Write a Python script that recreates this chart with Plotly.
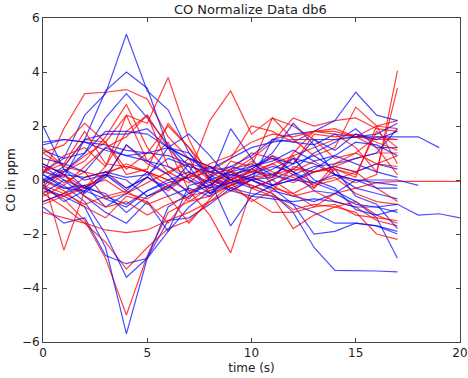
import plotly.graph_objects as go

# Normalised CO readings (ppm) per run, sampled once per second starting at t=0
blue_runs = [
    [0.3, 0.8, 2.4, 3.2, 5.4, 3.3, 2.6, 1.0, 0.2, -0.3, 0.0, -0.4, -0.6, -0.8, -0.5, -0.9, -1.0, -1.2],
    [0.0, 0.5, 1.5, 3.3, 4.0, 3.4, 1.2, 0.3, -0.2, 0.4, 0.6, 0.2, 0.0, 0.3, 0.5, 0.3, 0.6, 0.4],
    [-0.2, 0.3, 1.0, 2.3, 3.2, 2.3, 1.3, 0.5, -0.5, -0.2, 0.1, 0.4, 0.8, 0.6, 0.2, -0.3, -0.5, -0.7],
    [-0.3, -0.6, -1.0, -2.5, -5.7, -2.9, -1.5, -1.4, -0.9, -0.3, -0.5, -0.6, -0.9, -1.2, -1.6, -1.6, -1.7, -1.9],
    [0.2, -0.2, -0.8, -2.0, -3.6, -2.9, -1.9, -1.0, -0.4, -0.1, 0.2, 0.5, 0.3, -0.1, -0.4, -0.8, -1.4, -2.9],
    [-1.0, -1.6, -1.4, -2.8, -3.1, -2.9, -1.0, -0.5, 0.0, 0.3, 0.0, -0.3, -0.9, -2.0, -1.9, -1.6, -1.7, -2.0],
    [0.5, 0.0, -0.3, -0.5, -1.2, -0.6, -0.3, 0.2, 0.5, 0.0, -0.2, -0.5, -1.2, -2.5, -3.35, -3.35, -3.37, -3.4],
    [1.3, 1.5, 1.4, 1.3, 1.1, 1.0, 0.9, 0.6, 0.4, 0.8, 1.2, 1.4, 1.5, 1.5, 1.5, 1.6, 1.6, 1.6, 1.6, 1.2],
    [-0.8, -0.5, -0.2, -0.6, -0.9, -0.4, 0.0, 0.3, -0.1, -0.4, -0.6, -0.7, -0.8, -0.7, -0.8, -1.0, -1.0, -0.9, -1.3, -1.25, -1.4],
    [2.0, 0.4, -0.3, 0.2, -0.3, 0.1, -0.3, 0.6, 0.1, 0.5, 0.9, 1.5, 1.7, 1.8, 2.2, 3.25, 2.4, 2.2],
    [1.1, 0.8, 1.0, 1.8, 1.8, 1.7, 1.2, 0.8, 0.5, 0.0, -0.3, 0.0, 0.4, 1.0, 1.4, 1.9, 1.2, 1.2],
    [1.4, 1.5, 1.4, 1.1, 0.9, 1.0, 1.2, 1.0, 0.0, 1.9, 0.8, -0.2, 0.2, 0.5, 0.6, 0.8, 1.0, 1.9],
    [0.3, 0.1, 1.5, 1.7, 1.7, 1.9, 1.2, 1.7, 0.9, 0.0, 0.4, 1.0, 2.1, 1.3, 0.2, 0.0, -0.1, -0.2],
    [0.0, 0.2, -0.5, 0.2, 0.0, -0.6, -0.2, -0.7, 0.1, -0.4, 0.0, 1.5, 1.4, 1.3, 1.7, 1.6, 1.7, 2.1],
    [-0.5, 0.0, -0.6, -1.2, -1.6, -0.8, -1.9, -0.2, 0.0, -1.7, -0.6, -0.2, 0.0, 0.4, 0.9, 0.6, 0.3, 0.1],
    [0.2, -0.3, -0.2, -1.0, -0.5, 0.1, 1.2, 0.8, 0.3, 0.5, 0.3, 0.2, 0.6, 0.9, 0.4, -0.6, -0.9, -1.8],
    [-0.1, 0.4, 0.0, 0.2, -0.4, 0.3, -0.6, -0.3, -0.6, 0.2, 0.4, 0.9, 0.3, -0.4, -0.5, 0.0, -0.3, -0.3],
    [0.6, 0.2, 0.1, 0.3, 0.1, 0.2, 0.8, 0.5, 0.3, 0.2, 0.0, 0.1, 0.8, 0.0, -0.3, -1.1, -1.3, -1.1],
    [0.0, -0.3, -0.4, -0.7, -1.0, -0.4, -0.1, 0.1, -0.3, -0.1, 0.1, -0.2, 0.0, -0.1, 0.2, 0.0, 0.0, 0.0, -0.2],
    [-0.2, -0.8, -0.4, 0.1, 1.3, 0.7, 0.2, -0.5, -0.2, 0.3, 0.5, 0.7, 1.1, 0.7, 0.9, 1.4, 1.3, 0.9],
    [0.8, 0.6, 0.3, 1.2, 0.9, 0.7, 0.5, 0.0, -0.5, 0.1, 0.5, 0.8, 0.6, 1.5, 1.1, 1.7, 1.5, 1.8],
]

red_runs = [
    [0.2, 1.9, 3.2, 3.25, 3.35, 3.0, 1.6, 0.8, 0.5, 0.0, 0.3, 0.6, 0.9, 1.2, 1.5, 1.6, 1.5, 1.5],
    [0.5, 0.3, 0.9, 1.4, 2.4, 2.1, 3.8, 1.5, 0.0, -0.1, 0.2, 0.6, 0.2, -0.2, 0.0, 0.3, 0.6, 0.5],
    [-0.8, -0.5, 0.1, 0.3, -0.3, 0.1, -0.4, 0.2, 2.2, 3.3, 1.7, 2.3, 2.0, 1.5, 0.8, 1.0, 1.6, 1.5],
    [-0.3, -0.7, -1.5, -2.9, -5.0, -2.8, -1.2, -0.8, -0.3, 0.2, 0.1, -0.2, -0.6, -0.4, -0.8, -1.0, -1.5, -1.7],
    [-0.5, -1.0, -1.6, -2.3, -3.3, -2.5, -1.8, -1.5, -0.8, -0.2, 0.1, 0.2, -0.1, 0.3, 0.5, 0.8, 1.0, 1.0],
    [0.1, -2.6, -0.4, 0.3, 0.5, 0.3, -0.2, -0.8, -0.6, -0.2, 0.0, -0.3, -0.5, -0.1, 0.1, -0.5, -0.8, -0.9],
    [-0.9, -0.6, -0.3, 0.2, 0.6, 0.3, 0.0, -0.4, -1.3, -2.7, -0.3, -0.6, -1.8, -1.3, -1.0, -1.2, -2.0, -2.2],
    [-0.1, 0.3, 0.7, 1.6, 2.8, 1.2, 0.3, -0.1, 0.5, 0.3, 0.8, 1.4, 2.3, 2.0, 2.2, 2.3, 1.9, 1.8],
    [0.3, 0.9, 1.2, 0.5, 2.4, 0.7, 1.4, 0.0, -0.3, 0.7, 0.5, 2.3, 1.5, 0.9, 1.2, 2.7, 2.0, 2.2],
    [0.6, 0.2, -0.3, 0.5, 1.8, 2.4, 1.2, -0.4, -0.2, 0.4, 1.0, 0.8, 0.3, 0.7, 0.2, -0.1, 0.2, 4.05],
    [1.2, 0.5, 1.5, 1.4, 0.4, 1.0, 2.0, 1.2, 0.0, -0.2, 0.4, 0.0, 1.0, 1.8, 1.7, 1.2, 0.3, 3.4],
    [-0.4, -0.6, -0.2, 0.0, -0.5, -0.1, 0.3, 0.6, 0.0, -0.3, -0.7, -1.2, -1.2, -1.0, -0.5, -0.3, -0.1, -0.05, -0.05, -0.05, -0.05],
    [-1.2, -1.4, -1.6, -1.85, -1.95, -1.85, -1.5, -1.2, -0.8, -0.4, 0.0, 0.2, 0.4, 0.3, 0.5, 0.3, -0.3, -0.8],
    [1.0, 1.3, 2.1, 1.4, 0.2, 0.4, 2.1, 1.2, 0.3, 0.8, 2.0, 1.8, 1.4, 1.8, 1.9, 1.6, 2.0, 1.9],
    [-0.2, -0.5, -0.9, -0.6, -0.4, -0.9, -0.6, -1.6, -0.7, 0.1, -0.2, -0.5, -1.1, -0.9, -1.0, -0.8, -1.3, -1.6],
    [0.4, -0.1, 0.3, 0.1, 1.3, 0.6, 0.2, 0.8, -0.5, 0.0, 0.7, 0.3, 0.1, -0.3, 0.6, 1.0, 0.6, 0.9],
    [1.0, 0.5, 0.3, -0.7, -0.5, -0.7, -0.2, 0.1, 0.3, -0.1, -0.8, -0.4, 0.5, 0.3, 0.4, 0.2, 1.8, 1.2],
    [-0.6, -0.2, 0.5, 1.2, 1.6, 2.4, 0.5, 0.2, -0.1, 0.2, 0.4, 0.1, 0.9, -0.3, 0.4, 0.1, 2.0, 0.6],
    [0.0, -0.4, -1.0, -1.4, -0.6, -0.8, -1.6, -0.6, -0.4, 0.0, 0.3, 0.9, 0.6, 1.7, 1.6, 1.7, 1.4, 1.1],
    [0.3, 0.6, 1.8, 0.6, 0.5, 0.3, 0.0, 0.1, 0.6, 0.9, 1.4, 1.7, 1.6, 1.8, 1.8, 1.6, 1.2, 0.2],
    [-0.3, 0.2, -0.6, -1.0, -0.8, -1.3, -0.9, -0.6, 0.2, 0.4, -0.3, 0.0, -0.5, -1.0, -0.9, -1.3, -1.4, -1.5],
]

x_ticks = [0, 5, 10, 15, 20]
y_ticks = [-6, -4, -2, 0, 2, 4, 6]

fig = go.Figure()
for i in range(max(len(red_runs), len(blue_runs))):
    for runs, color in ((red_runs, "rgba(255,0,0,0.75)"), (blue_runs, "rgba(0,0,255,0.7)")):
        if i < len(runs):
            ys = runs[i]
            fig.add_trace(go.Scatter(
                x=list(range(len(ys))), y=ys, mode="lines",
                line=dict(color=color, width=1.2), showlegend=False,
                hoverinfo="skip"))

axis_common = dict(
    showline=True, linecolor="#444", linewidth=1, mirror="ticks",
    ticks="inside", ticklen=4, tickcolor="#444", showgrid=False,
    zeroline=False, tickfont=dict(size=12, color="#222"),
    ticklabeloverflow="allow", automargin=False,
)
fig.update_layout(
    width=468, height=378,
    margin=dict(l=43, r=8, t=18, b=36),
    paper_bgcolor="white", plot_bgcolor="white",
    font=dict(family="DejaVu Sans", color="#222"),
    title=dict(text="CO Normalize Data db6", x=0.535, xanchor="center",
               y=0.975, yanchor="middle", font=dict(size=13)),
    xaxis=dict(range=[0, 20], tickvals=x_ticks,
               title=dict(text="time (s)", font=dict(size=12), standoff=4),
               **axis_common),
    yaxis=dict(range=[-6, 6], tickvals=y_ticks,
               title=dict(text="CO in ppm", font=dict(size=12), standoff=3),
               **axis_common),
)
fig.write_html("out.html", config={"displayModeBar": False},
               post_script="document.body.style.margin='0';")
